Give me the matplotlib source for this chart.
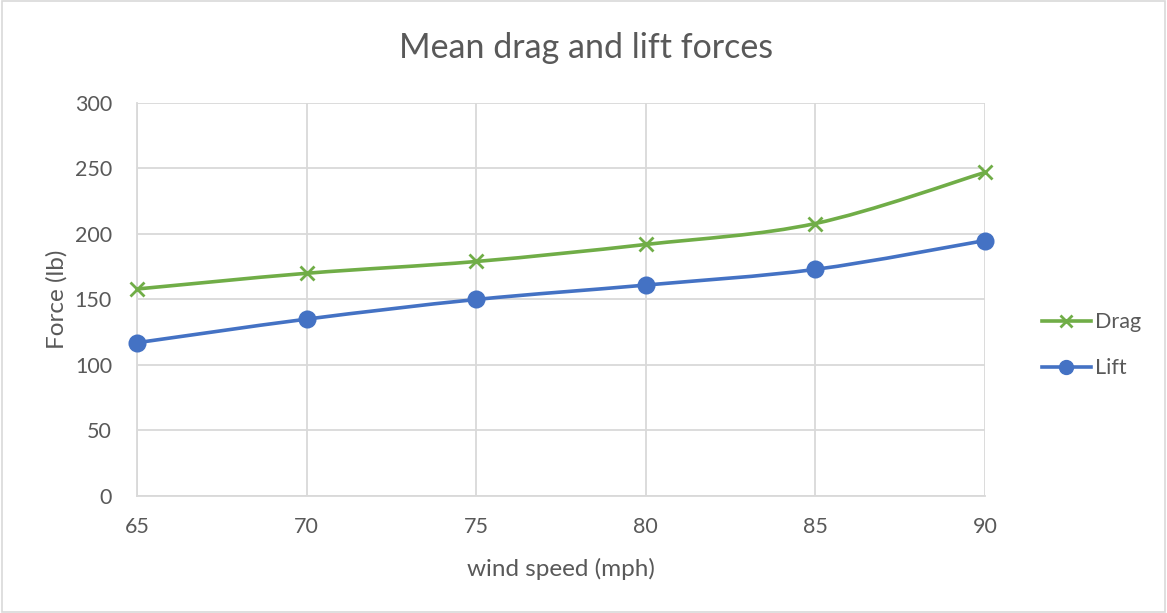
import numpy as np
import matplotlib.pyplot as plt
from matplotlib.path import Path
from matplotlib.patches import PathPatch
from matplotlib.lines import Line2D

plt.rcParams['font.family'] = ['Lato', 'DejaVu Sans']

wind_speed = [65, 70, 75, 80, 85, 90]
drag = [158, 170, 179, 192, 208, 247]
lift = [117, 135, 150, 161, 173, 195]

GREEN = '#70AD47'
BLUE = '#4472C4'
TXT = '#595959'
GRID = '#D9D9D9'


def smooth_path(x, y):
    # excel style smoothed line: cubic bezier through every point
    p = np.column_stack([x, y]).astype(float)
    ext = np.vstack([p[0], p, p[-1]])
    verts = [tuple(p[0])]
    codes = [Path.MOVETO]
    for i in range(len(p) - 1):
        c1 = ext[i + 1] + (ext[i + 2] - ext[i]) / 6
        c2 = ext[i + 2] - (ext[i + 3] - ext[i + 1]) / 6
        verts += [tuple(c1), tuple(c2), tuple(p[i + 1])]
        codes += [Path.CURVE4] * 3
    return Path(verts, codes)


fig = plt.figure(figsize=(11.67, 6.13), dpi=100)
ax = fig.add_axes([0.1174, 0.1909, 0.7266, 0.6411])

for xs, ys, col, mk, ms in [(wind_speed, drag, GREEN, 'x', 10),
                            (wind_speed, lift, BLUE, 'o', 11)]:
    ax.add_patch(PathPatch(smooth_path(xs, ys), fill=False, edgecolor=col,
                           lw=2.6, capstyle='round', zorder=3))
    ax.plot(xs, ys, ls='none', marker=mk, color=col, ms=ms, mew=2, zorder=4,
            clip_on=False)

ax.set_xlim(65, 90)
ax.set_ylim(0, 300)
ax.set_xticks(wind_speed)
ax.set_yticks(range(0, 301, 50))
ax.grid(True, color=GRID, lw=1.3)
ax.set_axisbelow(True)
for s in ax.spines.values():
    s.set_visible(False)
ax.spines['left'].set_visible(True)
ax.spines['bottom'].set_visible(True)
ax.spines['left'].set_color(GRID)
ax.spines['bottom'].set_color(GRID)
ax.spines['left'].set_linewidth(1.3)
ax.spines['bottom'].set_linewidth(1.3)
ax.tick_params(length=0, labelsize=15.5, labelcolor=TXT, pad=15)
ax.tick_params(axis='y', pad=18)

ax.set_xlabel('wind speed (mph)', fontsize=17.5, color=TXT, labelpad=15)
ax.set_ylabel('Force (lb)', fontsize=17.5, color=TXT, labelpad=5)
fig.text(0.502, 0.922, 'Mean drag and lift forces', ha='center', va='center',
         fontsize=24.5, color=TXT)

handles = [Line2D([], [], color=GREEN, lw=2.6, marker='x', ms=8, mew=2),
           Line2D([], [], color=BLUE, lw=2.6, marker='o', ms=10)]
fig.legend(handles, ['Drag', 'Lift'], loc='center left',
           bbox_to_anchor=(0.876, 0.437), frameon=False, fontsize=15.5,
           labelcolor=TXT, handlelength=2.3, handletextpad=0.2,
           labelspacing=1.2)

fig.patches.append(plt.Rectangle((0.002, 0.002), 0.996, 0.996, fill=False,
                                 edgecolor=GRID, lw=1.2,
                                 transform=fig.transFigure))

fig.savefig('out.png', dpi=100)
